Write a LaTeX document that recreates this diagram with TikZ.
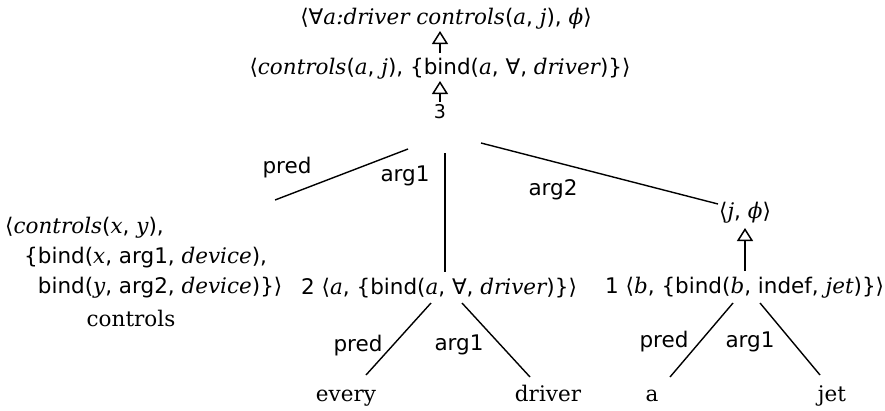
\documentclass[tikz,border=0pt]{standalone}
\usepackage{fontspec}
\setmainfont{DejaVu Serif}
\setsansfont{DejaVu Sans}
\usetikzlibrary{arrows.meta}
\newcommand\iv[1]{{\rmfamily\itshape #1}}
\begin{document}
\begin{tikzpicture}[x=1pt,y=-1pt,
  every node/.style={inner sep=1pt,font=\sffamily\fontsize{21.5}{26}\selectfont},
  lbl/.style={font=\sffamily\fontsize{21.5}{26}\selectfont},
  word/.style={font=\rmfamily\fontsize{21.5}{26}\selectfont,anchor=base},
  edge/.style={line width=1.4pt},
  up/.style={line width=1.4pt,-{Triangle[open,length=13pt,width=16pt,line width=1.5pt]}}]
\useasboundingbox (0,0) rectangle (885,410);
% top chain
\node (top) at (446,19) {⟨∀\iv{a:driver controls}(\iv{a}, \iv{j}), \iv{ϕ}⟩};
\node (l2) at (440,69) {⟨\iv{controls}(\iv{a}, \iv{j}), \{bind(\iv{a}, ∀, \iv{driver})\}⟩};
\node[font=\sffamily\fontsize{19}{22}\selectfont] (three) at (440,112) {3};
\coordinate (a1s) at (440,53); \coordinate (a1e) at (440,31);
\coordinate (a2s) at (440,102); \coordinate (a2e) at (440,81);
\draw[up] (a1s) -- (a1e);
\draw[up] (a2s) -- (a2e);
% left block
\node[anchor=west] (lc1) at (4,228) {⟨\iv{controls}(\iv{x}, \iv{y}),};
\node[anchor=west] (lc2) at (23,258) {\{bind(\iv{x}, arg1, \iv{device}),};
\node[anchor=west] (lc3) at (23,288) {\phantom{\{}bind(\iv{y}, arg2, \iv{device})\}⟩};
\node[word] (ctl) at (131,326) {controls};
% middle row
\node[anchor=west] (n2) at (300,288) {2 ⟨\iv{a}, \{bind(\iv{a}, ∀, \iv{driver})\}⟩};
\node[anchor=west] (n1) at (604,288) {1 ⟨\iv{b}, \{bind(\iv{b}, indef, \iv{jet})\}⟩};
\node (jphi) at (745,213) {⟨\iv{j}, \iv{ϕ}⟩};
% edges from 3
\coordinate (p1s) at (408,149); \coordinate (p1e) at (275,200);
\coordinate (q1s) at (445,153); \coordinate (q1e) at (445,272);
\coordinate (r1s) at (481,143); \coordinate (r1e) at (718,204);
\draw[edge] (p1s) -- (p1e);
\draw[edge] (q1s) -- (q1e);
\draw[edge] (r1s) -- (r1e);
\node[lbl] (pred1) at (287,168) {pred};
\node[lbl] (arg1a) at (405,176) {arg1};
\node[lbl] (arg2a) at (553,190) {arg2};
\coordinate (jas) at (745,271); \coordinate (jae) at (745,228);
\draw[up] (jas) -- (jae);
% leaves
\node[word] (every) at (346,401) {every};
\node[word] (driver) at (548,401) {driver};
\node[word] (aa) at (652,401) {a};
\node[word] (jet) at (832,401) {jet};
\coordinate (b1s) at (431,303); \coordinate (b1e) at (366,375);
\coordinate (b2s) at (462,303); \coordinate (b2e) at (530,377);
\coordinate (c1s) at (733,303); \coordinate (c1e) at (670,377);
\coordinate (c2s) at (760,303); \coordinate (c2e) at (820,375);
\draw[edge] (b1s) -- (b1e);
\draw[edge] (b2s) -- (b2e);
\draw[edge] (c1s) -- (c1e);
\draw[edge] (c2s) -- (c2e);
\node[lbl] (pred2) at (358,346) {pred};
\node[lbl] (arg1b) at (459,345) {arg1};
\node[lbl] (pred3) at (664,342) {pred};
\node[lbl] (arg1c) at (750,342) {arg1};
\end{tikzpicture}
\end{document}
